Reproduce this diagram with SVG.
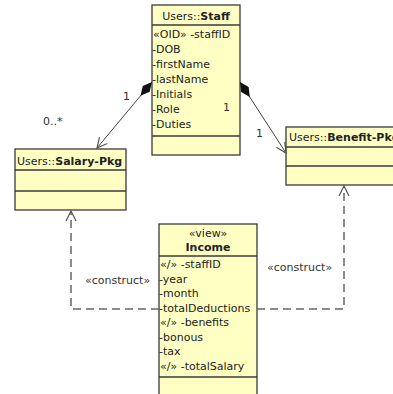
<svg xmlns="http://www.w3.org/2000/svg" width="393" height="394" viewBox="0 0 393 394">
<style>
.box{fill:#FFFFC4;stroke:#3a3a3a;stroke-width:1.3}
.div{stroke:#3a3a3a;stroke-width:1.3}
text{font-family:"DejaVu Sans",Verdana,sans-serif;font-size:11px;fill:#222}
.b{font-weight:bold}
.lbl{fill:#333}
.assoc{fill:none;stroke:#444;stroke-width:1}
.dash{fill:none;stroke:#666;stroke-width:1.5;stroke-dasharray:8,5}
</style>
<defs>
<marker id="dia" markerUnits="userSpaceOnUse" markerWidth="20" markerHeight="10" refX="0" refY="4.5" orient="auto">
<path d="M0,4.5 L9,0 L18,4.5 L9,9 Z" fill="#111"/>
</marker>
<marker id="arr" markerUnits="userSpaceOnUse" markerWidth="14" markerHeight="14" refX="11" refY="6" orient="auto">
<path d="M1,1 L11,6 L1,11" fill="none" stroke="#555" stroke-width="1.2"/>
</marker>
</defs>

<g id="staff">
<rect class="box" x="152" y="5" width="88" height="150"/>
<line class="div" x1="152" y1="25" x2="240" y2="25"/>
<line class="div" x1="152" y1="136" x2="240" y2="136"/>
<text x="196" y="20" text-anchor="middle">Users::<tspan class="b">Staff</tspan></text>
<text x="153" y="38">«OID» -staffID</text>
<text x="152" y="53">-DOB</text>
<text x="152" y="68">-firstName</text>
<text x="152" y="83">-lastName</text>
<text x="152" y="98">-Initials</text>
<text x="152" y="113">-Role</text>
<text x="152" y="128">-Duties</text>
</g>

<g id="salary">
<rect class="box" x="15" y="149" width="111" height="61"/>
<line class="div" x1="15" y1="170" x2="126" y2="170"/>
<line class="div" x1="15" y1="191" x2="126" y2="191"/>
<text x="17" y="165">Users::<tspan class="b">Salary-Pkg</tspan></text>
</g>

<g id="benefit">
<rect class="box" x="286" y="127" width="120" height="58"/>
<line class="div" x1="286" y1="147" x2="406" y2="147"/>
<line class="div" x1="286" y1="166" x2="406" y2="166"/>
<text x="289" y="141">Users::<tspan class="b">Benefit-Pkg</tspan></text>
</g>

<g id="income">
<rect class="box" x="159" y="224" width="98" height="180"/>
<line class="div" x1="159" y1="256" x2="257" y2="256"/>
<line class="div" x1="159" y1="377" x2="257" y2="377"/>
<text x="208" y="237" text-anchor="middle">«view»</text>
<text x="208" y="251" text-anchor="middle" class="b">Income</text>
<text x="160" y="268">«/» -staffID</text>
<text x="159" y="282.5">-year</text>
<text x="159" y="297">-month</text>
<text x="159" y="311.5">-totalDeductions</text>
<text x="160" y="326">«/» -benefits</text>
<text x="159" y="340.5">-bonous</text>
<text x="159" y="355">-tax</text>
<text x="160" y="369.5">«/» -totalSalary</text>
</g>

<g id="connectors">
<path class="assoc" d="M152,82 L97,148" marker-start="url(#dia)" marker-end="url(#arr)"/>
<path class="assoc" d="M240,82 L286,153" marker-start="url(#dia)" marker-end="url(#arr)"/>
<path class="dash" d="M159,309 H71 V211" marker-end="url(#arr)"/>
<path class="dash" d="M257,309 H344 V186" marker-end="url(#arr)"/>
<text class="lbl" x="123" y="100">1</text>
<text class="lbl" x="43" y="125">0..*</text>
<text class="lbl" x="223" y="111">1</text>
<text class="lbl" x="256" y="137">1</text>
<text class="lbl" x="85" y="284">«construct»</text>
<text class="lbl" x="267" y="271">«construct»</text>
</g>
</svg>
